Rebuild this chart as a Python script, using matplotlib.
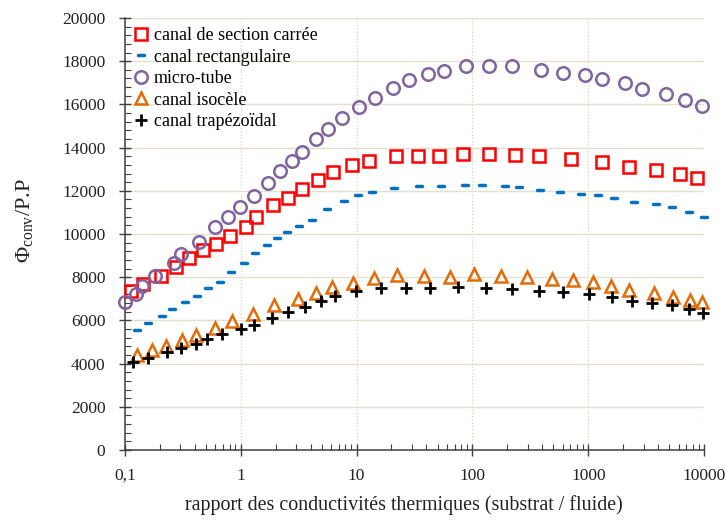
import matplotlib
matplotlib.use("Agg")
import matplotlib.pyplot as plt
from matplotlib.markers import MarkerStyle
from matplotlib.ticker import FixedLocator, LogLocator, MultipleLocator, FuncFormatter, NullFormatter

plt.rcParams['font.family'] = ['Liberation Serif', 'DejaVu Serif']
plt.rcParams['mathtext.fontset'] = 'custom'
plt.rcParams['mathtext.rm'] = 'Liberation Serif'
plt.rcParams['mathtext.it'] = 'Liberation Serif:italic'

# carré
x_carre = [0.113, 0.144, 0.205, 0.274, 0.36, 0.475, 0.608, 0.80, 1.10, 1.36, 1.88, 2.55, 3.39,
           4.66, 6.21, 9.06, 12.9, 21.7, 34, 51.9, 82.4, 138, 235, 372, 713, 1313, 2233, 3873,
           6160, 8650]
y_carre = [7380, 7680, 8060, 8490, 8870, 9270, 9540, 9920, 10320, 10800, 11320, 11680, 12080,
           12480, 12850, 13200, 13390, 13590, 13630, 13610, 13700, 13700, 13640, 13600, 13480,
           13320, 13120, 12960, 12800, 12580]

# rectangulaire
x_rect = [0.126, 0.159, 0.209, 0.257, 0.332, 0.417, 0.525, 0.658, 0.83, 1.07, 1.34, 1.70, 2.05,
          2.52, 3.16, 4.11, 5.58, 7.72, 10.3, 13.7, 21.0, 34.8, 53.6, 87, 121, 189, 250, 385,
          573, 859, 1213, 1668, 2484, 3822, 5250, 7362, 10000]
y_rect = [5560, 5880, 6190, 6520, 6830, 7140, 7490, 7800, 8220, 8680, 9130, 9480, 9820, 10090,
          10350, 10670, 11150, 11510, 11820, 11950, 12140, 12210, 12240, 12290, 12260, 12240,
          12180, 12040, 11930, 11850, 11790, 11680, 11470, 11370, 11240, 11020, 10770]

# micro-tube
x_tube = [0.1, 0.124, 0.141, 0.182, 0.266, 0.307, 0.44, 0.60, 0.77, 0.99, 1.29, 1.71, 2.19, 2.78,
          3.4, 4.42, 5.7, 7.47, 10.5, 14.5, 20.6, 28.4, 41, 56.5, 88, 138, 220, 392, 604, 930,
          1312, 2089, 2931, 4665, 6855, 9550]
y_tube = [6830, 7210, 7610, 8060, 8650, 9080, 9650, 10320, 10780, 11240, 11780, 12350, 12900,
          13380, 13790, 14380, 14870, 15360, 15900, 16290, 16740, 17110, 17390, 17540, 17770,
          17800, 17770, 17580, 17460, 17350, 17170, 16970, 16730, 16490, 16190, 15910]

# isocèle
x_iso = [0.128, 0.170, 0.228, 0.311, 0.408, 0.60, 0.84, 1.28, 1.93, 3.13, 4.48, 6.08, 9.23, 14.1,
         22.3, 38.5, 64.6, 104, 175, 297, 482, 742, 1097, 1560, 2247, 3650, 5400, 7570, 9480]
y_iso = [4400, 4630, 4820, 5100, 5330, 5640, 5990, 6300, 6720, 7010, 7260, 7540, 7720, 7940,
         8080, 8060, 8000, 8140, 8060, 8030, 7920, 7850, 7770, 7600, 7410, 7260, 7100, 6950, 6870]

# trapézoïdal
x_trap = [0.118, 0.159, 0.229, 0.307, 0.408, 0.508, 0.69, 1.0, 1.30, 1.85, 2.55, 3.57, 4.88, 6.54,
          9.87, 16.2, 26.5, 43.4, 75.7, 131, 220, 374, 608, 1006, 1612, 2399, 3548, 5220, 7360,
          9790]
y_trap = [4090, 4280, 4530, 4710, 4910, 5140, 5380, 5590, 5790, 6120, 6380, 6640, 6920, 7150,
          7370, 7480, 7520, 7520, 7540, 7520, 7460, 7380, 7300, 7230, 7070, 6920, 6820, 6710,
          6510, 6330]

x_ticks = [0.1, 1, 10, 100, 1000, 10000]

fig = plt.figure(figsize=(7.26, 5.23), dpi=100)
ax = fig.add_axes([0.172, 0.1396, 0.798, 0.826])

dash = MarkerStyle('_', capstyle='round')

ax.plot(x_carre, y_carre, ls='none', marker='s', ms=8.5, mfc='none', mec='#ff0000', mew=1.8,
        label='canal de section carrée', clip_on=False, zorder=3)
ax.plot(x_rect, y_rect, ls='none', marker=dash, ms=4, mec='#0070c0', mew=2.5,
        label='canal rectangulaire', clip_on=False, zorder=3)
ax.plot(x_tube, y_tube, ls='none', marker='o', ms=9, mfc='none', mec='#8064a2', mew=1.8,
        label='micro-tube', clip_on=False, zorder=3)
ax.plot(x_iso, y_iso, ls='none', marker='^', ms=9, mfc='none', mec='#e36c09', mew=1.8,
        label='canal isocèle', clip_on=False, zorder=3)
ax.plot(x_trap, y_trap, ls='none', marker='+', ms=9, mec='black', mew=2,
        label='canal trapézoïdal', clip_on=False, zorder=3)

ax.set_xscale('log')
ax.set_xlim(0.1, 10000)
ax.set_ylim(0, 20000)
ax.xaxis.set_major_locator(FixedLocator(x_ticks))
ax.xaxis.set_minor_locator(LogLocator(base=10, subs=range(2, 10), numticks=20))
ax.xaxis.set_minor_formatter(NullFormatter())
ax.xaxis.set_major_formatter(FuncFormatter(lambda v, p: f"{v:g}".replace('.', ',')))
ax.yaxis.set_major_locator(MultipleLocator(2000))
ax.yaxis.set_minor_locator(MultipleLocator(400))

ax.grid(True, axis='y', which='major', color='#e4e0cf', lw=1)
ax.grid(True, axis='x', which='major', color='#d8d2b8', lw=0.9, ls=':')
ax.set_axisbelow(True)

for s in ['top', 'right']:
    ax.spines[s].set_visible(False)
for s in ['left', 'bottom']:
    ax.spines[s].set_color('#404040')
    ax.spines[s].set_linewidth(1.1)

ax.tick_params(which='major', direction='inout', length=8, width=1, color='#404040',
               labelsize=12.5, labelcolor='#222222')
ax.tick_params(axis='y', which='major', pad=10)
ax.tick_params(axis='x', which='major', pad=9)
ax.tick_params(which='minor', direction='in', length=4, width=0.8, color='#404040')

ax.set_xlabel('rapport des conductivités thermiques (substrat / fluide)', fontsize=14.4,
              color='#222222')
ax.xaxis.set_label_coords(0.482, -0.105)
ax.set_ylabel(r'$\Phi_{\mathrm{conv}}$/P.P', fontsize=16, color='#222222')
ax.yaxis.set_label_coords(-0.155, 0.53)

ax.legend(loc='upper left', bbox_to_anchor=(-0.008, 1.012), frameon=False, fontsize=13,
          handlelength=0.7, handletextpad=0.35, labelspacing=0.25, borderpad=0.3)

fig.savefig('out.png', dpi=100)
